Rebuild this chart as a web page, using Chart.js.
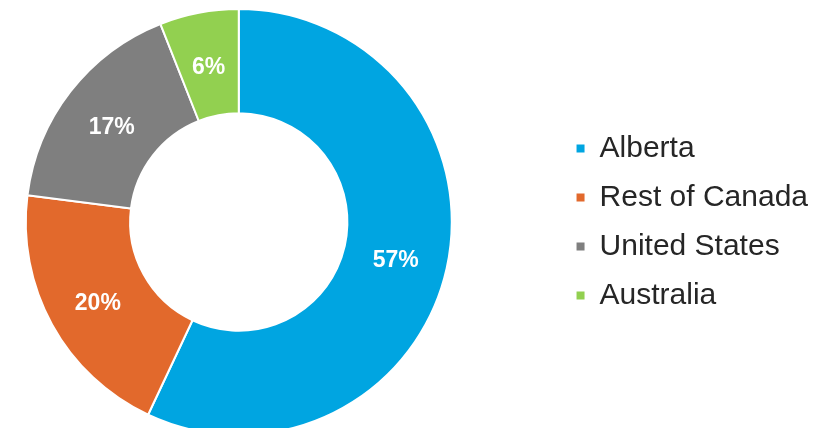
<!DOCTYPE html>
<html>
<head>
<meta charset="utf-8">
<script src="https://cdn.jsdelivr.net/npm/chart.js@4/dist/chart.umd.min.js"></script>
<style>
  html, body { margin: 0; padding: 0; background: #fff; overflow: hidden; width: 838px; height: 428px; }
  canvas { display: block; margin-left: -80px; }
</style>
</head>
<body>
<canvas id="grafico" width="918" height="440"></canvas>
<script>
const regioes = ['Alberta', 'Rest of Canada', 'United States', 'Australia'];
const percentuais = [57, 20, 17, 6];
const cores = ['#00a5e1', '#e2692c', '#7f7f7f', '#92d050'];

const fonte = '"Liberation Sans", Arial, sans-serif';

// rótulos brancos dentro de cada fatia
const rotulosFatias = {
    id: 'rotulosFatias',
    afterDatasetsDraw(chart) {
        const ctx = chart.ctx;
        const meta = chart.getDatasetMeta(0);
        ctx.save();
        ctx.font = 'bold 23px ' + fonte;
        ctx.fillStyle = '#ffffff';
        ctx.textAlign = 'center';
        ctx.textBaseline = 'middle';
        meta.data.forEach((arco, i) => {
            const p = arco.tooltipPosition();
            ctx.fillText(percentuais[i] + '%', p.x, p.y + 4);
        });
        ctx.restore();
    }
};

new Chart(document.getElementById('grafico'), {
    type: 'doughnut',
    data: {
        labels: regioes,
        datasets: [{
            data: percentuais,
            backgroundColor: cores,
            borderColor: '#ffffff',
            borderWidth: 2,
            hoverOffset: 0,
        }],
    },
    options: {
        responsive: false,
        animation: false,
        cutout: '51%',
        layout: {
            padding: { left: 0, right: 20, top: 8, bottom: 4 },
        },
        plugins: {
            tooltip: { enabled: false },
            legend: {
                position: 'right',
                labels: {
                    boxWidth: 8,
                    boxHeight: 8,
                    padding: 19,
                    color: '#262626',
                    font: { family: fonte, size: 30 },
                    generateLabels(chart) {
                        const base = Chart.overrides.doughnut.plugins.legend.labels.generateLabels(chart);
                        return base.map((l) => ({ ...l, lineWidth: 0, strokeStyle: 'transparent' }));
                    },
                },
            },
        },
    },
    plugins: [rotulosFatias],
});
</script>
</body>
</html>
